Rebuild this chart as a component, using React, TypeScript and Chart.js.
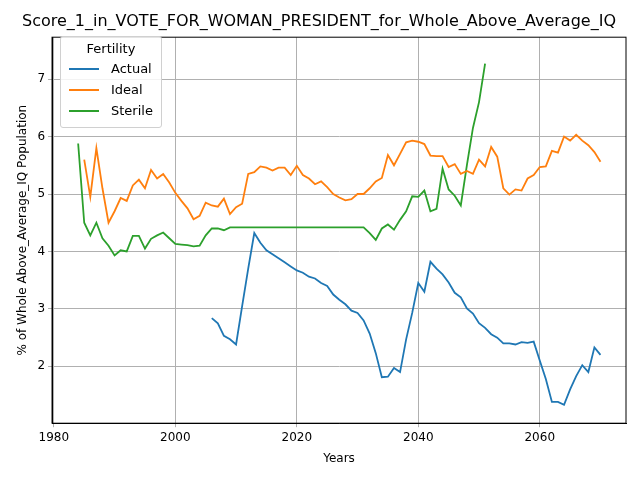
import { useEffect, useRef } from 'react';
import { Chart } from 'chart.js/auto';

const FONT = 'DejaVu Sans';

const idealStart = 1985;
const ideal = [5.6, 4.95, 5.8, 5.1, 4.5, 4.7, 4.93, 4.88, 5.15, 5.25, 5.1, 5.42, 5.27, 5.35, 5.2, 5.02, 4.88, 4.75, 4.56, 4.62,
  4.85, 4.8, 4.78, 4.92, 4.65, 4.77, 4.83, 5.35, 5.38, 5.48, 5.46, 5.41, 5.46, 5.46, 5.33, 5.49, 5.33, 5.27, 5.17, 5.22,
  5.12, 5.0, 4.94, 4.89, 4.91, 5.0, 5.0, 5.1, 5.22, 5.28, 5.68, 5.5, 5.7, 5.9, 5.93, 5.91, 5.87, 5.67, 5.66, 5.66,
  5.47, 5.52, 5.35, 5.4, 5.35, 5.6, 5.48, 5.82, 5.65, 5.1, 4.99, 5.08, 5.06, 5.27, 5.33, 5.47, 5.48, 5.75, 5.72, 6.0,
  5.93, 6.03, 5.93, 5.85, 5.73, 5.56];

const sterileStart = 1984;
const sterile = [5.88, 4.5, 4.28, 4.5, 4.23, 4.1, 3.93, 4.02, 4.0, 4.27, 4.27, 4.05, 4.22, 4.28, 4.33, 4.23, 4.13, 4.12, 4.11, 4.09,
  4.1, 4.28, 4.4, 4.4, 4.37, 4.42, 4.42, 4.42, 4.42, 4.42, 4.42, 4.42, 4.42, 4.42, 4.42, 4.42, 4.42, 4.42, 4.42, 4.42,
  4.42, 4.42, 4.42, 4.42, 4.42, 4.42, 4.42, 4.42, 4.32, 4.2, 4.4, 4.47, 4.38, 4.55, 4.7, 4.96, 4.95, 5.06, 4.7, 4.74,
  5.44, 5.08, 4.97, 4.8, 5.5, 6.15, 6.6, 7.27];

const actualStart = 2006;
const actual = [2.84, 2.75, 2.53, 2.47, 2.38, 3.05, 3.7, 4.32, 4.15, 4.02, 3.95, 3.88, 3.81, 3.74, 3.67, 3.63, 3.56, 3.53, 3.45, 3.4,
  3.25, 3.16, 3.08, 2.97, 2.93, 2.8, 2.57, 2.23, 1.81, 1.82, 1.97, 1.9, 2.47, 2.93, 3.45, 3.3, 3.82, 3.7, 3.6, 3.46,
  3.28, 3.2, 3.01, 2.92, 2.75, 2.67, 2.56, 2.5, 2.4, 2.4, 2.38, 2.42, 2.41, 2.43, 2.1, 1.78, 1.38, 1.38, 1.33, 1.6,
  1.83, 2.02, 1.9, 2.33, 2.2];

const xTicks = [1980, 2000, 2020, 2040, 2060];
const yTicks = [2, 3, 4, 5, 6, 7];

const toPoints = (start: number, vals: number[]) => vals.map((y, i) => ({ x: start + i, y }));

// matplotlib-style frame round the plot area
const framePlugin = {
  id: 'frame',
  afterDraw(chart: Chart) {
    const { ctx, chartArea: a } = chart;
    ctx.save();
    ctx.strokeStyle = '#000';
    ctx.lineWidth = 1;
    ctx.strokeRect(a.left, a.top, a.right - a.left, a.bottom - a.top);
    ctx.restore();
  },
};

export default function App() {
  const canvasRef = useRef<HTMLCanvasElement>(null);

  useEffect(() => {
    if (!canvasRef.current) return;
    const line = { borderWidth: 1.8, pointRadius: 0, tension: 0 };
    const chart = new Chart(canvasRef.current, {
      type: 'line',
      data: {
        datasets: [
          { label: 'Actual', data: toPoints(actualStart, actual), borderColor: '#1f77b4', ...line },
          { label: 'Ideal', data: toPoints(idealStart, ideal), borderColor: '#ff7f0e', ...line },
          { label: 'Sterile', data: toPoints(sterileStart, sterile), borderColor: '#2ca02c', ...line },
        ],
      },
      options: {
        animation: false,
        responsive: false,
        layout: { padding: { left: 12, right: 14, top: 0, bottom: 10 } },
        plugins: {
          legend: { display: false },
          tooltip: { enabled: false },
          title: {
            display: true,
            text: 'Score_1_in_VOTE_FOR_WOMAN_PRESIDENT_for_Whole_Above_Average_IQ',
            color: '#000',
            font: { family: FONT, size: 16, weight: 'normal' },
            padding: { top: 12, bottom: 6 },
          },
        },
        scales: {
          x: {
            type: 'linear',
            min: 1979.7,
            max: 2074.2,
            afterBuildTicks: (s) => { s.ticks = xTicks.map((value) => ({ value })); },
            grid: { color: '#b0b0b0', tickLength: 4 },
            border: { color: '#000' },
            ticks: { color: '#000', font: { family: FONT, size: 12 }, maxRotation: 0, callback: (v) => String(v) },
            title: { display: true, text: 'Years', color: '#000', font: { family: FONT, size: 12 } },
          },
          y: {
            min: 1.01,
            max: 7.73,
            afterBuildTicks: (s) => { s.ticks = yTicks.map((value) => ({ value })); },
            grid: { color: '#b0b0b0', tickLength: 4 },
            border: { color: '#000' },
            ticks: { color: '#000', font: { family: FONT, size: 12 } },
            title: { display: true, text: '% of Whole Above_Average_IQ Population', color: '#000', font: { family: FONT, size: 12 } },
          },
        },
      },
      plugins: [framePlugin],
    });
    return () => chart.destroy();
  }, []);

  const items = [
    { label: 'Actual', color: '#1f77b4' },
    { label: 'Ideal', color: '#ff7f0e' },
    { label: 'Sterile', color: '#2ca02c' },
  ];

  return (
    <div style={{ position: 'fixed', left: 0, top: 0, width: 640, height: 480, background: '#fff', fontFamily: FONT }}>
      <canvas ref={canvasRef} width={640} height={480} />
      <div style={{
        position: 'absolute', left: 60, top: 36, padding: '4px 8px 6px 8px', border: '1px solid #d0d0d0',
        borderRadius: 3, background: 'rgba(255,255,255,0.85)', fontSize: 13, color: '#000',
      }}>
        <div style={{ textAlign: 'center', marginBottom: 2 }}>Fertility</div>
        {items.map((it) => (
          <div key={it.label} style={{ display: 'flex', alignItems: 'center', height: 21 }}>
            <div style={{ width: 30, height: 2, background: it.color, marginRight: 12 }} />
            <span>{it.label}</span>
          </div>
        ))}
      </div>
    </div>
  );
}
